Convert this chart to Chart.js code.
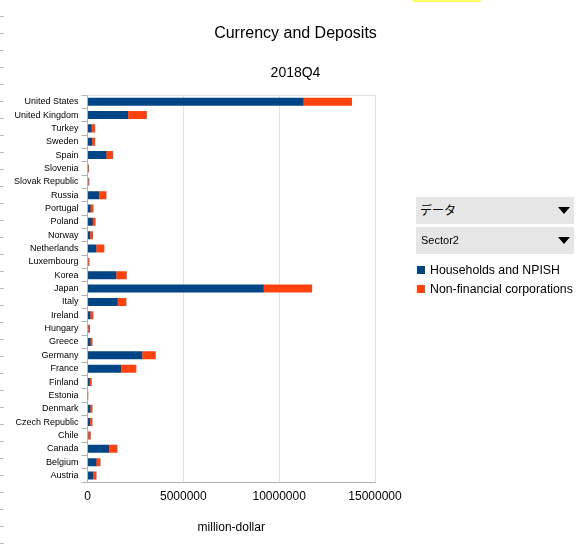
<!DOCTYPE html>
<html>
<head>
<meta charset="utf-8">
<script src="https://cdn.jsdelivr.net/npm/chart.js@4"></script>
<style>
  body { margin: 0; background: #fff; }
  #wrap { position: relative; width: 580px; height: 545px; }
  .sel {
    position: absolute; left: 416px; width: 158px; height: 27px;
    background: #e6e6e6; font-family: "Liberation Sans", "Noto Sans CJK JP", sans-serif;
    font-size: 11px; line-height: 27px; color: #000; box-sizing: border-box; padding-left: 5px;
  }
  .sel.jp { font-size: 12px; padding-left: 4px; line-height: 29px; }
  .sel::after {
    content: ""; position: absolute; right: 4px; top: 10px;
    border-left: 6px solid transparent; border-right: 6px solid transparent;
    border-top: 7px solid #000;
  }
  #legend {
    position: absolute; left: 417px; top: 263px; list-style: none; margin: 0; padding: 0;
    font-family: "Liberation Sans", sans-serif; font-size: 12.3px; color: #000;
  }
  #legend li { height: 19px; line-height: 15px; white-space: nowrap; }
  #legend span { display: inline-block; width: 8px; height: 8px; margin-right: 5px; }
  #edge {
    position: absolute; left: 0; top: 0; width: 4px; height: 545px;
    background: repeating-linear-gradient(to bottom, transparent 0 16px, #bbb 16px 17px);
  }
  #mark { position: absolute; left: 413px; top: 0; width: 68px; height: 2px; background: #ffff66; }
</style>
</head>
<body>
<div id="wrap">
  <canvas id="chart" width="580" height="545"></canvas>
  <div id="edge"></div>
  <div id="mark"></div>
  <div class="sel jp" style="top:197px">データ</div>
  <div class="sel" style="top:227px">Sector2</div>
  <ul id="legend"></ul>
</div>
<script>
const countries = ['United States', 'United Kingdom', 'Turkey', 'Sweden', 'Spain', 'Slovenia',
  'Slovak Republic', 'Russia', 'Portugal', 'Poland', 'Norway', 'Netherlands', 'Luxembourg',
  'Korea', 'Japan', 'Italy', 'Ireland', 'Hungary', 'Greece', 'Germany', 'France', 'Finland',
  'Estonia', 'Denmark', 'Czech Republic', 'Chile', 'Canada', 'Belgium', 'Austria'];

const households = [11280000, 2120000, 220000, 240000, 1000000, 25000,
  40000, 620000, 170000, 280000, 140000, 470000, 30000,
  1510000, 9200000, 1580000, 160000, 50000, 170000, 2860000, 1770000, 120000,
  10000, 160000, 140000, 50000, 1130000, 480000, 310000];

const nonFinancial = [2520000, 980000, 180000, 160000, 340000, 50000,
  50000, 370000, 140000, 140000, 150000, 410000, 70000,
  540000, 2520000, 450000, 150000, 80000, 90000, 700000, 780000, 100000,
  30000, 100000, 120000, 120000, 430000, 200000, 160000];

const xTicks = [0, 5000000, 10000000, 15000000];

const font = 'Liberation Sans';

// thin line along the top of the plot area
const topBorder = {
  id: 'topBorder',
  afterDraw(chart) {
    const a = chart.chartArea, c = chart.ctx;
    c.save();
    c.strokeStyle = '#e0e0e0';
    c.lineWidth = 1;
    c.beginPath();
    c.moveTo(a.left, a.top + 0.5);
    c.lineTo(a.right, a.top + 0.5);
    c.stroke();
    c.restore();
  }
};

const ctx = document.getElementById('chart').getContext('2d');
const chart = new Chart(ctx, {
  type: 'bar',
  data: {
    labels: countries,
    datasets: [{
      label: 'Households and NPISH',
      data: households,
      backgroundColor: '#004586'
    }, {
      label: 'Non-financial corporations',
      data: nonFinancial,
      backgroundColor: '#ff420e'
    }]
  },
  options: {
    indexAxis: 'y',
    responsive: false,
    animation: false,
    layout: { padding: { left: 11, right: 0, top: 0, bottom: 10 } },
    datasets: { bar: { categoryPercentage: 1, barPercentage: 0.6 } },
    plugins: {
      title: {
        display: true, text: 'Currency and Deposits', color: '#000',
        font: { family: font, size: 16, weight: 'normal' },
        padding: { top: 24, bottom: 20 }
      },
      subtitle: {
        display: true, text: '2018Q4', color: '#000',
        font: { family: font, size: 14, weight: 'normal' },
        padding: { top: 2, bottom: 13 }
      },
      legend: { display: false },
      tooltip: { enabled: false }
    },
    scales: {
      x: {
        stacked: true, min: 0, max: 15000000,
        afterBuildTicks(axis) { axis.ticks = xTicks.map(v => ({ value: v })); },
        ticks: { color: '#000', font: { family: font, size: 12 }, padding: 7,
                 callback: v => String(v) },
        grid: { color: '#e0e0e0', tickLength: 0 },
        border: { color: '#b3b3b3' },
        title: { display: true, text: 'million-dollar', color: '#000',
                 font: { family: font, size: 12 }, padding: { top: 10, bottom: 0 } }
      },
      y: {
        stacked: true,
        ticks: { color: '#000', font: { family: font, size: 9 }, padding: 3, autoSkip: false },
        grid: { offset: true, drawOnChartArea: false, color: '#b3b3b3', tickLength: 6 },
        border: { color: '#b3b3b3' }
      },
      // empty right-hand axis that keeps room for the legend and selectors
      side: {
        type: 'linear', axis: 'y', position: 'right',
        grid: { display: false }, border: { display: false }, ticks: { display: false },
        afterFit(scale) { scale.width = 205; }
      }
    }
  },
  plugins: [topBorder]
});

// legend beside the plot, built from the chart's datasets
const legend = document.getElementById('legend');
chart.data.datasets.forEach(ds => {
  const li = document.createElement('li');
  const sw = document.createElement('span');
  sw.style.background = ds.backgroundColor;
  li.appendChild(sw);
  li.appendChild(document.createTextNode(ds.label));
  legend.appendChild(li);
});
</script>
</body>
</html>
